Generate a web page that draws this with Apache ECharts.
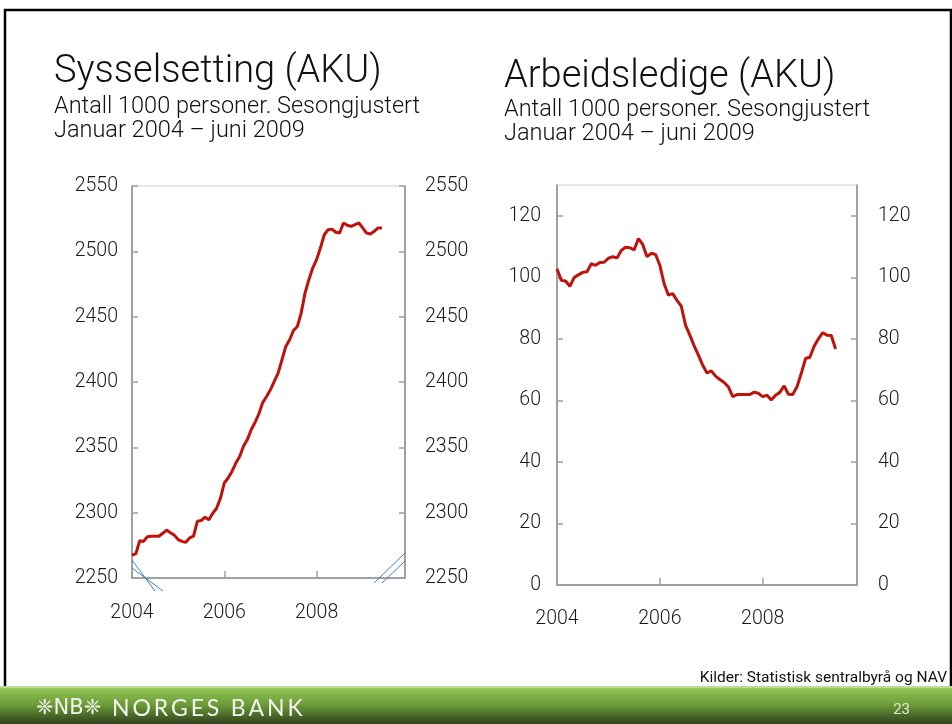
<!DOCTYPE html>
<html><head><meta charset="utf-8">
<script src="https://cdn.jsdelivr.net/npm/echarts@6/dist/echarts.min.js"></script>
<style>html,body{margin:0;padding:0;background:#fff}#c{width:952px;height:724px}</style>
</head><body><div id="c"></div>
<script>
// Sysselsetting (AKU), 1000 personer, jan 2004 - jun 2009
const employment = [
  2267.6, 2268.5, 2278.5, 2278.0, 2281.6, 2282, 2282, 2282, 2284.2, 2286.7, 2284.6, 2282.8,
  2279.4, 2278, 2277.3, 2280.7, 2282, 2293.4, 2294, 2296.5, 2294.5, 2299.5, 2303.4, 2311,
  2322.7, 2326.5, 2331.6, 2338, 2343, 2350.8, 2355.9, 2363.5, 2369, 2375.7, 2384.3, 2388.9,
  2394, 2400.4, 2406.8, 2417, 2427.2, 2432.3, 2439.4, 2442.5, 2452.7, 2468, 2478.3, 2487.2,
  2493.6, 2502.5, 2512.7, 2516.6, 2517, 2514.6, 2514, 2521.7, 2520, 2519.1, 2520.4, 2521.7,
  2517.9, 2514, 2513.3, 2515.3, 2517.9, 2517.9
];
// Arbeidsledige (AKU), 1000 personer, jan 2004 - jun 2009
const unemployed = [
  102.8, 99, 98.8, 97.1, 99.9, 100.8, 101.6, 101.8, 104.4, 103.9, 104.8, 104.9,
  106.2, 106.7, 106.3, 108.7, 109.8, 109.6, 108.9, 112.6, 110.7, 106.7, 107.8, 107.4,
  103.9, 97.9, 94.2, 94.7, 92.5, 90.6, 84.4, 81.2, 77.7, 74.7, 71.4, 68.9,
  69.6, 67.9, 66.8, 65.8, 64.4, 61.2, 61.9, 61.9, 61.9, 61.9, 62.7, 62.3,
  61.2, 61.7, 60.1, 61.7, 62.6, 64.7, 62, 61.9, 64.4, 68.8, 73.6, 74,
  77.6, 80, 82, 81.2, 81.1, 76.7
];
const yearLabels = ['2004', '2006', '2008'];
const empTicks = [2250, 2300, 2350, 2400, 2450, 2500, 2550];
const unTicks = [0, 20, 40, 60, 80, 100, 120];

function monthCats(count) {
  const out = [];
  for (let i = 0; i < count; i++) {
    const y = 2004 + Math.floor(i / 12);
    const m = (i % 12) + 1;
    out.push(y + '-' + (m < 10 ? '0' + m : m));
  }
  return out;
}
const catsLeft = monthCats(72);
const catsRight = monthCats(71);

const FONT = 'Roboto';
const TXT = '#1a1a1a';
const AXC = '#8a8a8a';
const LBL = 19.5;

function isYearTick(value) {
  return yearLabels.indexOf(value.slice(0, 4)) >= 0 && value.slice(5) === '01';
}

function xAxisCfg(gridIndex, cats, margin) {
  return {
    type: 'category', gridIndex, data: cats, boundaryGap: false,
    axisLine: { lineStyle: { color: AXC, width: 1.5 } },
    axisTick: { inside: true, length: 7, lineStyle: { color: '#a0a0a0', width: 1.5 },
      interval: (idx, val) => isYearTick(val) },
    axisLabel: { interval: (idx, val) => isYearTick(val), formatter: v => v.slice(0, 4),
      fontSize: LBL, fontWeight: 300, color: TXT, fontFamily: FONT, margin },
    splitLine: { show: false }
  };
}
function yAxisCfg(gridIndex, pos, min, max, ticks, margin) {
  return {
    type: 'value', gridIndex, position: pos, min, max,
    axisLine: { show: true, lineStyle: { color: AXC, width: 1.5 } },
    axisTick: { show: true, inside: true, length: 6, lineStyle: { color: '#a0a0a0', width: 1.5 }, customValues: ticks },
    axisLabel: { fontSize: LBL, fontWeight: 300, color: TXT, fontFamily: FONT, margin, customValues: ticks,
      formatter: v => String(v) },
    splitLine: { show: false }
  };
}

const chart = echarts.init(document.getElementById('c'), null, { renderer: 'canvas' });

const footerGrad = new echarts.graphic.LinearGradient(0, 0, 0, 1, [
  { offset: 0, color: '#b2d884' },
  { offset: 0.1, color: '#8fc050' },
  { offset: 0.5, color: '#6b9a38' },
  { offset: 1, color: '#2e421c' }
]);

function txt(text, x, y, size, weight, fill, align) {
  return { type: 'text', z: 10, style: { text, x, y, fontSize: size, fontFamily: FONT, fontWeight: weight,
    fill: fill || '#111', align: align || 'left', verticalAlign: 'middle' } };
}
function seg(x1, y1, x2, y2) {
  return { type: 'line', z: 10, shape: { x1, y1, x2, y2 }, style: { stroke: '#3d7fc4', lineWidth: 1 } };
}

chart.setOption({
  animation: false,
  backgroundColor: '#fff',
  grid: [
    { left: 132, top: 186, width: 273, height: 392, show: true, borderColor: '#d0d0d0', borderWidth: 1, backgroundColor: 'transparent' },
    { left: 557, top: 185, width: 300, height: 400, show: true, borderColor: '#d0d0d0', borderWidth: 1, backgroundColor: 'transparent' }
  ],
  xAxis: [xAxisCfg(0, catsLeft, 25), xAxisCfg(1, catsRight, 24)],
  yAxis: [
    yAxisCfg(0, 'left', 2250, 2550, empTicks, 14),
    yAxisCfg(0, 'right', 2250, 2550, empTicks, 20),
    yAxisCfg(1, 'left', 0, 130, unTicks, 16),
    yAxisCfg(1, 'right', 0, 130, unTicks, 21)
  ],
  series: [
    { type: 'line', xAxisIndex: 0, yAxisIndex: 0, data: employment, showSymbol: false,
      lineStyle: { color: '#c0120c', width: 3 }, z: 5 },
    { type: 'line', xAxisIndex: 1, yAxisIndex: 2, data: unemployed, showSymbol: false,
      lineStyle: { color: '#c0120c', width: 3 }, z: 5 }
  ],
  graphic: [
    { type: 'rect', z: 1, shape: { x: 5, y: 10, width: 946, height: 690 }, style: { fill: 'none', stroke: '#000', lineWidth: 2.5 } },
    txt('Sysselsetting (AKU)', 54, 72, 38, 300),
    txt('Antall 1000 personer. Sesongjustert', 54, 107, 23.5, 300),
    txt('Januar 2004 \u2013 juni 2009', 54, 131, 23.5, 300),
    txt('Arbeidsledige (AKU)', 504, 77, 38, 300),
    txt('Antall 1000 personer. Sesongjustert', 504, 110, 23.5, 300),
    txt('Januar 2004 \u2013 juni 2009', 504, 134, 23.5, 300),
    seg(132, 560, 155, 591), seg(132, 568, 163, 591),
    seg(405, 553, 374, 583), seg(405, 561, 382, 583),
    txt('Kilder: Statistisk sentralbyr\u00e5 og NAV', 947, 678, 15.5, 400, '#111', 'right'),
    { type: 'rect', z: 20, shape: { x: 0, y: 686, width: 952, height: 38 }, style: { fill: footerGrad } },
    { type: 'rect', z: 21, shape: { x: 0, y: 686, width: 952, height: 2 }, style: { fill: '#b9dd92' } },
    { type: 'text', z: 22, style: { text: '\u2748NB\u2748', x: 36, y: 709, fontSize: 21, fontFamily: 'DejaVu Sans', fill: '#f4f4f0', verticalAlign: 'middle' } },
    { type: 'text', z: 22, style: { text: 'N\u2009O\u2009R\u2009G\u2009E\u2009S\u2002B\u2009A\u2009N\u2009K', x: 112, y: 709, fontSize: 23, fontFamily: 'Lato', fill: '#f4f4f0', verticalAlign: 'middle' } },
    { type: 'text', z: 22, style: { text: '23', x: 910, y: 710, fontSize: 15, fontFamily: FONT, fill: '#dfe9d4', align: 'right', verticalAlign: 'middle' } }
  ]
});
</script>
</body></html>
